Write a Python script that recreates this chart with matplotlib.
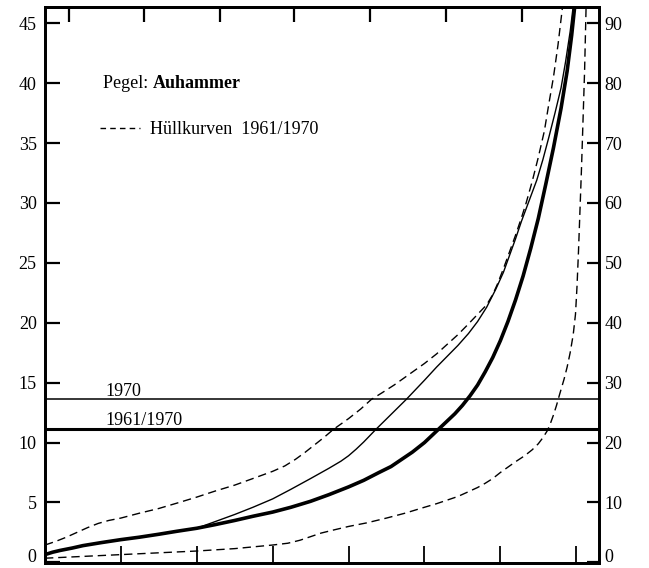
import matplotlib
matplotlib.use("Agg")
import matplotlib.pyplot as plt
from matplotlib.lines import Line2D

# ---- data (days of the year vs discharge) ----
thick_days = [0, 5, 10, 18, 25, 37, 50, 62, 75, 87, 100, 112, 125, 137, 150, 162, 175, 187,
              200, 210, 220, 228, 235, 242, 250, 255, 260, 265, 270, 275, 280, 285, 290, 295,
              300, 305, 310, 315, 320, 325, 330, 335, 340, 344, 347, 349]
thick_vals = [0.65, 0.85, 1.0, 1.2, 1.4, 1.65, 1.9, 2.1, 2.35, 2.6, 2.85, 3.15, 3.5, 3.85, 4.2,
              4.6, 5.1, 5.65, 6.3, 6.85, 7.5, 8.0, 8.6, 9.2, 10.0, 10.6, 11.2, 11.8, 12.4, 13.1,
              13.9, 14.8, 15.9, 17.1, 18.5, 20.1, 21.9, 23.9, 26.2, 28.7, 31.6, 34.6, 37.9,
              41.0, 44.0, 46.4]

thin_days = [0, 5, 10, 18, 25, 37, 50, 62, 75, 87, 100, 112, 125, 137, 150, 162, 175, 187,
             195, 200, 205, 210, 218, 228, 238, 250, 258, 265, 272, 279, 285, 291, 297, 302,
             306, 310, 314, 319, 324, 328, 332, 336, 340, 343, 346, 348]
thin_vals = [0.65, 0.85, 1.0, 1.2, 1.4, 1.65, 1.9, 2.1, 2.35, 2.6, 2.85, 3.4, 4.0, 4.6, 5.3,
             6.1, 7.0, 7.85, 8.45, 8.9, 9.45, 10.05, 11.1, 12.35, 13.6, 15.2, 16.3, 17.2, 18.1,
             19.1, 20.1, 21.3, 22.8, 24.2, 25.6, 27.0, 28.5, 30.2, 31.9, 33.6, 35.5, 37.5, 39.6,
             41.8, 44.3, 46.4]

upper_days = [0, 7, 14, 21, 28, 35, 42, 50, 62, 75, 87, 100, 112, 125, 137, 150, 158, 165,
              171, 178, 184, 190, 200, 208, 215, 222, 230, 240, 250, 258, 265, 272, 279, 285,
              291, 295, 298, 302, 306, 310, 314, 317, 321, 325, 329, 332, 335, 338, 341]
upper_vals = [1.45, 1.75, 2.1, 2.5, 2.9, 3.25, 3.5, 3.7, 4.1, 4.5, 4.95, 5.45, 5.95, 6.45,
              7.0, 7.6, 8.05, 8.6, 9.15, 9.85, 10.45, 11.1, 12.0, 12.8, 13.6, 14.15, 14.8, 15.7,
              16.6, 17.4, 18.2, 19.0, 19.9, 20.7, 21.5, 22.35, 23.2, 24.5, 25.9, 27.3, 28.8,
              30.0, 31.8, 33.8, 36.0, 38.3, 40.5, 43.2, 46.4]

lower_days = [0, 25, 50, 75, 100, 125, 150, 160, 168, 175, 182, 190, 200, 212, 225, 237, 250,
              258, 265, 272, 279, 285, 290, 295, 300, 305, 310, 316, 321, 325, 328, 331, 333,
              335, 337, 339, 342, 344, 346, 348, 349.5, 350.5, 351.5, 352.5, 353.5, 354.5,
              355.5, 356.5]
lower_vals = [0.35, 0.5, 0.65, 0.8, 0.95, 1.15, 1.45, 1.6, 1.85, 2.15, 2.45, 2.7, 3.0, 3.3,
              3.7, 4.1, 4.6, 4.9, 5.2, 5.5, 5.9, 6.25, 6.6, 7.0, 7.5, 7.95, 8.4, 8.9, 9.4, 9.9,
              10.4, 11.0, 11.6, 12.3, 13.1, 14.0, 15.3, 16.3, 17.5, 19.0, 20.7, 23.0, 26.0,
              29.5, 33.0, 37.0, 41.0, 46.4]

mean_1970 = 13.6
mean_1961_1970 = 11.1

left_ticks = [0, 5, 10, 15, 20, 25, 30, 35, 40, 45]
right_ticks = [0, 10, 20, 30, 40, 50, 60, 70, 80, 90]
bottom_ticks = [50, 100, 150, 200, 250, 300, 350]
top_ticks = [16, 65, 115, 164, 214, 264, 314]

FONT = "Liberation Serif"
plt.rcParams['font.family'] = [FONT, 'DejaVu Serif']

fig = plt.figure(figsize=(6.49, 5.68), dpi=100)
ax = fig.add_axes([45/649, 5/568, (599-45)/649, (563-7)/568])
ax.set_xlim(0, 365)
ax.set_ylim(-0.05, 46.35)

dash = (0, (6, 3.5))
ax.plot(thick_days, thick_vals, color='black', lw=2.6, solid_joinstyle='round')
ax.plot(thin_days, thin_vals, color='black', lw=1.0, solid_joinstyle='round')
ax.plot(upper_days, upper_vals, color='black', lw=1.0, linestyle=dash)
ax.plot(lower_days, lower_vals, color='black', lw=1.0, linestyle=dash)

ax.axhline(mean_1970, color='black', lw=1.1)
ax.axhline(mean_1961_1970, color='black', lw=2.2)

ax.text(40, mean_1970 + 0.3, "1970", fontsize=13, ha='left', va='baseline')
ax.text(40, mean_1961_1970 + 0.4, "1961/1970", fontsize=13, ha='left', va='baseline')

# Title text
t1 = ax.text(38.5, 40.0, "Pegel: ", fontsize=13, ha='left', va='center')
ax.annotate("Auhammer", xy=(1, 0), xycoords=t1, fontsize=13, fontweight='bold',
            ha='left', va='bottom')

handle = Line2D([], [], color='black', lw=1.0, linestyle=(0, (4, 3)))
ax.legend([handle], ["Hüllkurven  1961/1970"], loc='center left',
          bbox_to_anchor=(0.1, 0.779), frameon=False, handlelength=2.2,
          handletextpad=0.55, borderaxespad=0, borderpad=0,
          prop={'family': FONT, 'size': 13})

# axes styling
for s in ax.spines.values():
    s.set_linewidth(2.0)

ax.set_yticks(left_ticks)
ax.set_yticklabels([str(v) for v in left_ticks], fontsize=13)
ax.tick_params(axis='y', direction='in', length=11, width=1.6, pad=6, left=True, right=False)
ax.get_yticklabels()[0].set_verticalalignment('baseline')
ax.set_xticks(bottom_ticks)
ax.set_xticklabels([])
ax.tick_params(axis='x', direction='in', length=12, width=1.3, bottom=True, top=False)

secx = ax.secondary_xaxis('top')
secx.set_xticks(top_ticks)
secx.set_xticklabels([])
secx.tick_params(direction='in', length=11, width=1.6)
secx.spines['top'].set_linewidth(2.0)

ax2 = ax.twinx()
ax2.set_ylim(-0.1, 92.7)
ax2.set_yticks(right_ticks)
ax2.set_yticklabels([str(v) for v in right_ticks], fontsize=13)
ax2.tick_params(axis='y', direction='in', length=8.5, width=1.6, pad=4)
ax2.get_yticklabels()[0].set_verticalalignment('baseline')
for s in ax2.spines.values():
    s.set_linewidth(2.0)

fig.savefig("out.png", dpi=100)
